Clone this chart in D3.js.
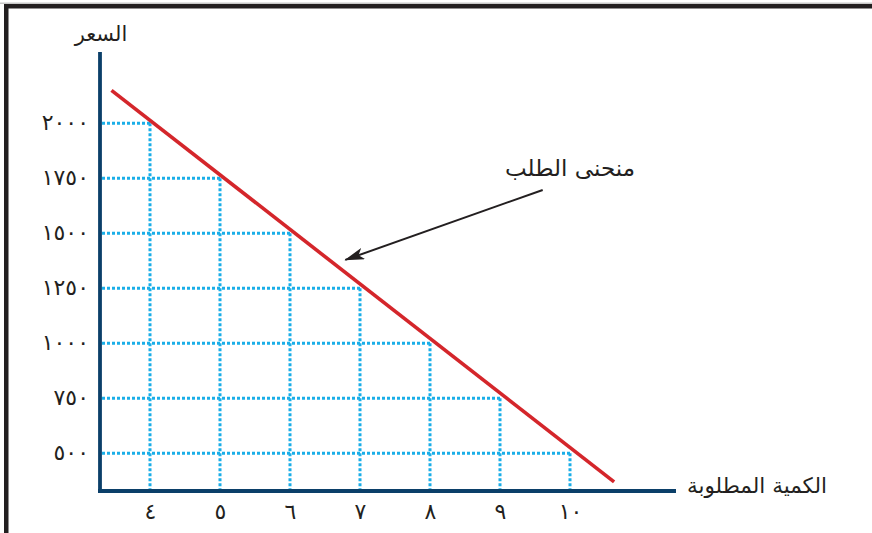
<!DOCTYPE html>
<html><head><meta charset="utf-8">
<script src="https://cdn.jsdelivr.net/npm/d3@7"></script>
<style>html,body{margin:0;padding:0;background:#fff;}svg{display:block;}</style>
</head><body>
<script>
// Data
const quantities = [4, 5, 6, 7, 8, 9, 10];
const prices = [2000, 1750, 1500, 1250, 1000, 750, 500];
const xTickLabels = ["٤", "٥", "٦", "٧", "٨", "٩", "١٠"];
const yTickLabels = ["٢٠٠٠", "١٧٥٠", "١٥٠٠", "١٢٥٠", "١٠٠٠", "٧٥٠", "٥٠٠"];
const curveQty = [3.45, 10.63];
const curvePrice = [2150, 370];
const arrowFrom = [9.61, 1697];   // arrow tail (qty, price)
const arrowTo = [6.79, 1379];     // arrow head (qty, price)
const yTitle = "السعر";
const xTitle = "الكمية المطلوبة";
const curveLabel = "منحنى الطلب";

const W = 872, H = 533;
const svg = d3.select("body").append("svg").attr("width", W).attr("height", H);
const font = "'DejaVu Sans', sans-serif";

const x = d3.scaleLinear().domain([4, 10]).range([150, 570]);
const y = d3.scaleLinear().domain([500, 2000]).range([453.3, 123.3]);
const axisX0 = 100, axisY0 = 491;

// frame
svg.append("rect").attr("x", 0).attr("y", 2.5).attr("width", W).attr("height", 1.5).attr("fill", "#c8c8c8");
svg.append("rect").attr("x", 4).attr("y", 4).attr("width", W - 4).attr("height", 4.5).attr("fill", "#231f20");
svg.append("rect").attr("x", 4).attr("y", 4).attr("width", 4.5).attr("height", H - 4).attr("fill", "#231f20");

// grid (dotted)
const pts = quantities.map((q, i) => ({ q, p: prices[i] }));
const grid = svg.append("g").attr("stroke", "#1aaee8").attr("stroke-width", 3).attr("stroke-dasharray", "3,2");
grid.selectAll("line.h").data(pts).enter().append("line").attr("class", "h")
  .attr("x1", axisX0 + 2).attr("x2", d => x(d.q)).attr("y1", d => y(d.p)).attr("y2", d => y(d.p));
grid.selectAll("line.v").data(pts).enter().append("line").attr("class", "v")
  .attr("x1", d => x(d.q)).attr("x2", d => x(d.q)).attr("y1", d => y(d.p)).attr("y2", axisY0 - 2);

// axes
svg.append("line").attr("x1", axisX0).attr("x2", axisX0).attr("y1", 52).attr("y2", axisY0 + 2)
  .attr("stroke", "#0b3f69").attr("stroke-width", 3.8);
svg.append("line").attr("x1", axisX0 - 2).attr("x2", 676).attr("y1", axisY0).attr("y2", axisY0)
  .attr("stroke", "#0b3f69").attr("stroke-width", 4);

// tick labels via d3 axes
const yAxis = d3.axisLeft(y).tickValues(prices).tickSize(0).tickPadding(0)
  .tickFormat((d, i) => yTickLabels[i]);
const gy = svg.append("g").attr("transform", "translate(89,0)").call(yAxis);
gy.select(".domain").remove();
gy.selectAll("text").attr("font-family", font).attr("font-size", 22).attr("fill", "#231f20")
  .attr("letter-spacing", 5.5).attr("dy", "0.3em");

const xAxis = d3.axisBottom(x).tickValues(quantities).tickSize(0).tickPadding(0)
  .tickFormat((d, i) => xTickLabels[i]);
const gx = svg.append("g").attr("transform", "translate(0,502)").call(xAxis);
gx.select(".domain").remove();
gx.selectAll("text").attr("font-family", font).attr("font-size", 22).attr("fill", "#231f20").attr("dy", "0.75em");

// demand curve
svg.append("line")
  .attr("x1", x(curveQty[0])).attr("y1", y(curvePrice[0]))
  .attr("x2", x(curveQty[1])).attr("y2", y(curvePrice[1]))
  .attr("stroke", "#d4262b").attr("stroke-width", 3.6);

// arrow
const defs = svg.append("defs");
defs.append("marker").attr("id", "ah").attr("viewBox", "0 0 20 12").attr("refX", 19).attr("refY", 6)
  .attr("markerWidth", 20).attr("markerHeight", 12).attr("markerUnits", "userSpaceOnUse").attr("orient", "auto")
  .append("path").attr("d", "M0,0 L20,6 L0,12 L5,6 Z").attr("fill", "#231f20");
svg.append("line")
  .attr("x1", x(arrowFrom[0])).attr("y1", y(arrowFrom[1]))
  .attr("x2", x(arrowTo[0])).attr("y2", y(arrowTo[1]))
  .attr("stroke", "#231f20").attr("stroke-width", 2).attr("marker-end", "url(#ah)");

// titles
svg.append("text").attr("x", 101).attr("y", 41).attr("text-anchor", "middle")
  .attr("font-family", font).attr("font-size", 21).attr("fill", "#231f20").text(yTitle);
svg.append("text").attr("x", 757).attr("y", 493).attr("text-anchor", "middle")
  .attr("font-family", font).attr("font-size", 21.5).attr("fill", "#231f20").text(xTitle);
svg.append("text").attr("x", 570).attr("y", 176).attr("text-anchor", "middle")
  .attr("font-family", font).attr("font-size", 23).attr("fill", "#231f20").text(curveLabel);
</script>
</body></html>
